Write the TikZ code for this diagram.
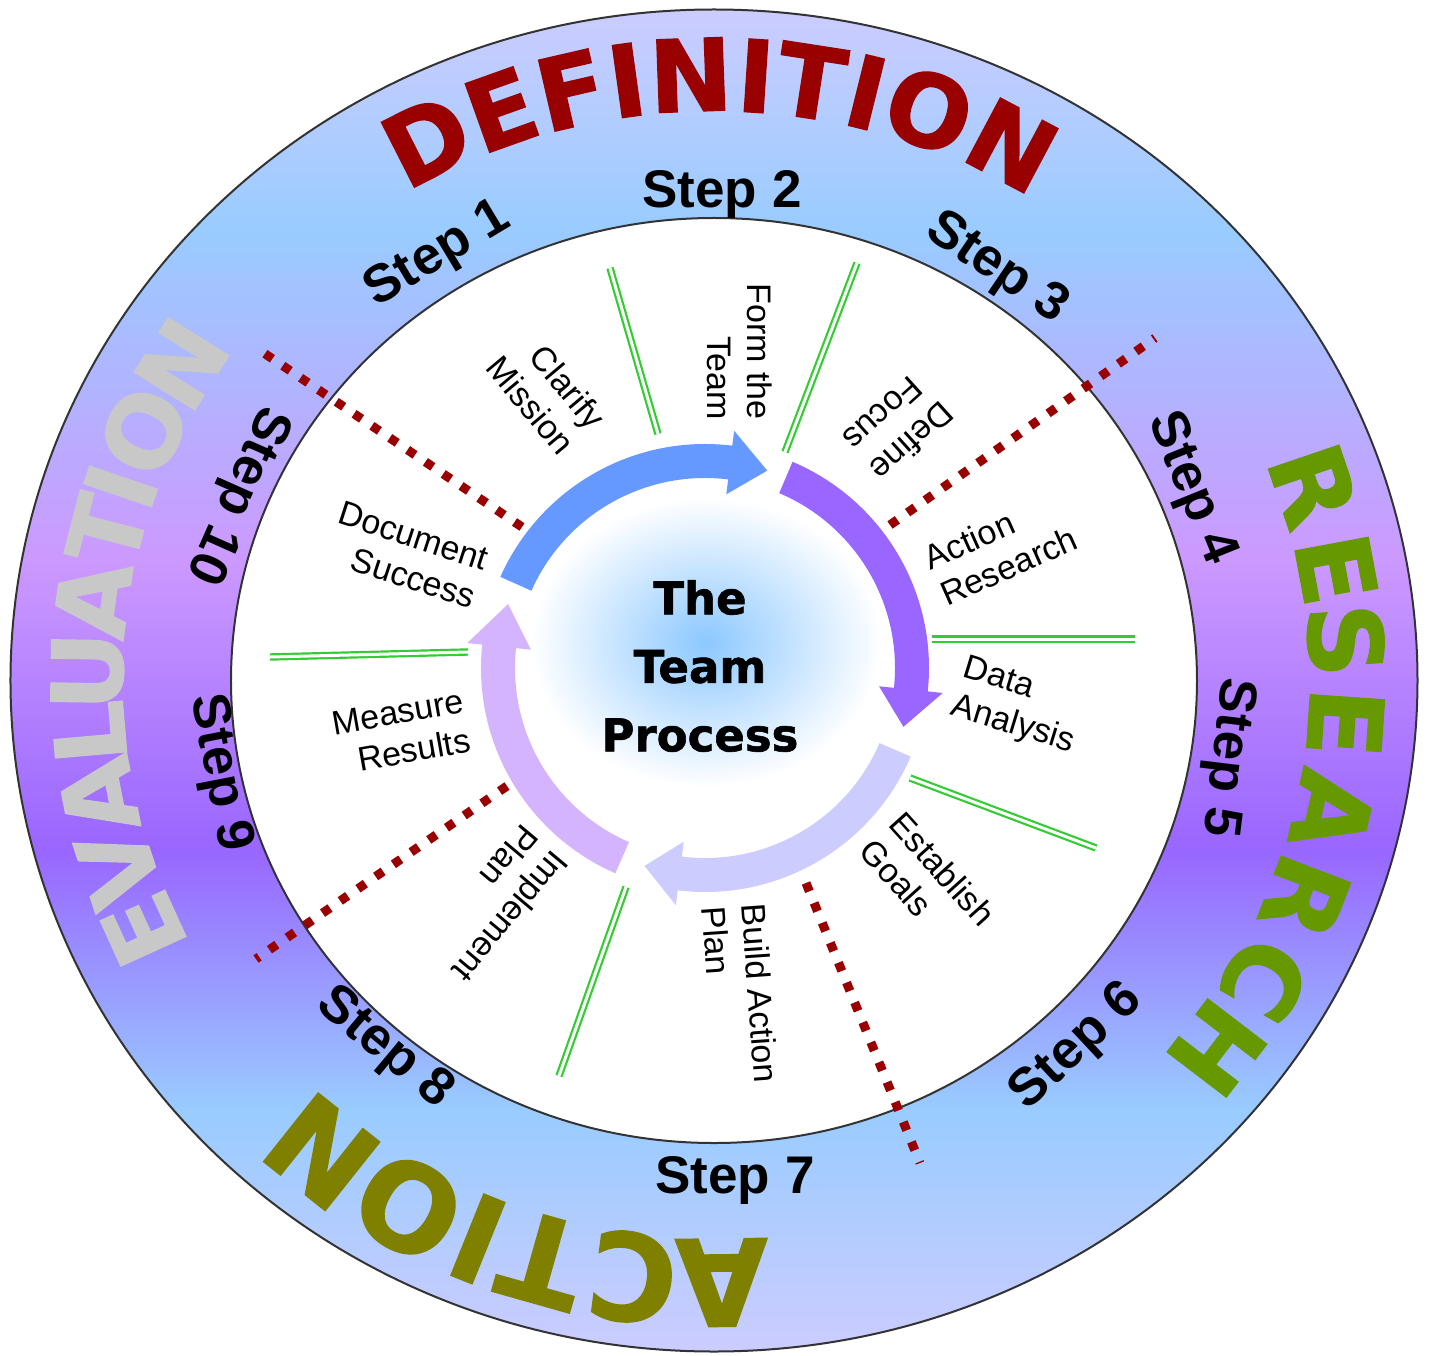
\documentclass[tikz,border=0pt]{standalone}
\usepackage{fontspec}
\setmainfont{Liberation Sans}
\newfontfamily\heavyfont{DejaVu Sans}[BoldFeatures={FakeBold=1.3}]

\definecolor{defred}{HTML}{990000}
\definecolor{resgreen}{HTML}{669900}
\definecolor{actolive}{HTML}{808000}
\definecolor{evalgray}{HTML}{C8C8C8}
\definecolor{divred}{HTML}{990000}
\definecolor{divgreen}{HTML}{33CC33}
\definecolor{arrblue}{HTML}{6699FF}
\definecolor{arrpurple}{HTML}{9966FF}
\definecolor{arrlav}{HTML}{CCCCFF}
\definecolor{arrlilac}{HTML}{D4B4FC}
\definecolor{glowblue}{HTML}{8CC8FF}
\definecolor{rimline}{HTML}{333333}

% vertical colour bands of the outer ring (bottom = 25bp, top = 75bp)
\pgfdeclareverticalshading{ringfill}{100bp}{rgb(0bp)=(0.8,0.8,1); rgb(25bp)=(0.8,0.8,1); rgb(34bp)=(0.6,0.8,1); rgb(43.7bp)=(0.6,0.4,1); rgb(54.5bp)=(0.8,0.6,1); rgb(66.8bp)=(0.6,0.8,1); rgb(75bp)=(0.8,0.8,1); rgb(100bp)=(0.8,0.8,1)}

% curved cycle arrow: colour, tail angle, head base angle, tip angle
\newcommand\cyclearrow[4]{%
  \fill[#1] (#2:224pt) arc[start angle=#2, end angle=#3, radius=224pt]
    -- (#3:239pt) -- (#4:207pt) -- (#3:175pt) -- (#3:190pt)
    arc[start angle=#3, end angle=#2, radius=190pt] -- cycle;}

\tikzset{
  steplabel/.style={font=\bfseries\fontsize{53}{60}\selectfont, inner sep=0pt, text height=38pt, text depth=0pt},
  innerlabel/.style={font=\fontsize{34}{40}\selectfont, inner sep=0pt},
  defletter/.style={font=\heavyfont\bfseries\fontsize{100}{100}\selectfont, text=defred, inner sep=0pt, text height=73pt, text depth=0pt},
  resletter/.style={font=\heavyfont\bfseries\fontsize{102}{102}\selectfont, text=resgreen, inner sep=0pt, text height=74pt, text depth=0pt},
  actletter/.style={font=\heavyfont\bfseries\fontsize{120}{120}\selectfont, text=actolive, inner sep=0pt, text height=87pt, text depth=0pt},
  evalletter/.style={font=\heavyfont\bfseries\fontsize{98}{98}\selectfont, text=evalgray, inner sep=0pt, text height=71pt, text depth=0pt},
  greendiv/.style={draw=divgreen, line width=2.2pt, double=white, double distance=3pt},
  reddiv/.style={draw=divred, line width=9pt, dash pattern=on 9pt off 12.5pt},
}

\begin{document}
\begin{tikzpicture}[x=1pt, y=1pt]
\useasboundingbox (-714,-674.5) rectangle (715,680.5);
\fill[white] (-714,-674.5) rectangle (715,680.5);

% outer ring
\shade[shading=ringfill] (0,0) ellipse[x radius=703.5pt, y radius=671pt];
\draw[rimline, line width=2pt] (0,0) ellipse[x radius=703.5pt, y radius=671pt];
\fill[white] (0,0) ellipse[x radius=483pt, y radius=462.5pt];
\draw[rimline, line width=2pt] (0,0) ellipse[x radius=483pt, y radius=462.5pt];

% soft glow behind the title
\shade[inner color=glowblue, outer color=white] (-8,38) ellipse[x radius=175pt, y radius=145pt];

% the four cycle arrows
\begin{scope}[shift={(-9,12.5)}]
  \cyclearrow{arrblue}{156}{83}{72.5}
  \cyclearrow{arrpurple}{67}{-6}{-16.5}
  \cyclearrow{arrlav}{-23.3}{-97}{-107}
  \cyclearrow{arrlilac}{246.4}{174}{162}
\end{scope}

% step separators
\coordinate (g1a) at (-104,412.5);  \coordinate (g1b) at (-56,246.5);
\coordinate (g2a) at (143,417.5);   \coordinate (g2b) at (71,228.5);
\coordinate (g3a) at (218,41.5);    \coordinate (g3b) at (421,41.5);
\coordinate (g4a) at (196,-97.5);   \coordinate (g4b) at (382,-167.5);
\coordinate (g5a) at (-88,-206.5);  \coordinate (g5b) at (-155,-395.5);
\coordinate (g6a) at (-444,23.5);   \coordinate (g6b) at (-246,28.5);
\draw[greendiv] (g1a) -- (g1b);
\draw[greendiv] (g2a) -- (g2b);
\draw[greendiv] (g3a) -- (g3b);
\draw[greendiv] (g4a) -- (g4b);
\draw[greendiv] (g5a) -- (g5b);
\draw[greendiv] (g6a) -- (g6b);

% phase separators
\coordinate (ra1) at (-192,153.5);  \coordinate (ra2) at (-459,333.5);
\coordinate (rb1) at (176,155.5);   \coordinate (rb2) at (441,342.5);
\coordinate (rc1) at (92,-202.5);   \coordinate (rc2) at (206,-482.5);
\coordinate (rd1) at (-207,-105.5); \coordinate (rd2) at (-458,-278.5);
\draw[reddiv] (ra1) -- (ra2);
\draw[reddiv] (rb1) -- (rb2);
\draw[reddiv] (rc1) -- (rc2);
\draw[reddiv] (rd1) -- (rd2);

% step labels in the ring
\node[steplabel, rotate=31]   (step1)  at (-279,430.5) {Step 1};
\node[steplabel]              (step2)  at (8,492)      {Step 2};
\node[steplabel, rotate=-34]  (step3)  at (286,416.5)  {Step 3};
\node[steplabel, rotate=-68]  (step4)  at (482,194.5)  {Step 4};
\node[steplabel, rotate=-97]  (step5)  at (518,-77.5)  {Step 5};
\node[steplabel, rotate=43]   (step6)  at (359,-362.5) {Step 6};
\node[steplabel]              (step7)  at (21,-493.5)  {Step 7};
\node[steplabel, rotate=-40]  (step8)  at (-326,-363.5) {Step 8};
\node[steplabel, rotate=-79]  (step9)  at (-489,-91.5) {Step 9};
\node[steplabel, rotate=-114] (step10) at (-472,183.5) {Step 10};

% activity labels
\node[innerlabel, rotate=-50, anchor=east, align=right]  (clarify)  at (-130.5,244)  {Clarify\\Mission};
\node[innerlabel, rotate=-90, anchor=east, align=right]  (form)     at (26,260.5)    {Form the\\Team};
\node[innerlabel, rotate=-138, anchor=east, align=right] (define)   at (148,220.5)   {Define\\Focus};
\node[innerlabel, rotate=24, anchor=west, align=left]    (research) at (220,103)     {Action\\Research};
\node[innerlabel, rotate=-17, anchor=west, align=left]   (data)     at (244,-7.5)    {Data\\Analysis};
\node[innerlabel, rotate=-48, anchor=west, align=left]   (goals)    at (167.5,-150.5) {Establish\\Goals};
\node[innerlabel, rotate=-86, anchor=west, align=left]   (build)    at (20,-224.5)   {Build Action\\Plan};
\node[innerlabel, rotate=-130, anchor=west, align=left]  (implement) at (-167,-162.5) {Implement\\Plan};
\node[innerlabel, rotate=10, anchor=east, align=right]   (measure)  at (-247.5,-40)  {Measure\\Results};
\node[innerlabel, rotate=-18, anchor=east, align=right]  (document) at (-233,101.5)  {Document\\Success};

% phase names set letter by letter round the ring
\foreach \ch/\ang [count=\i] in {D/116.9,E/109.6,F/103.0,I/97.9,N/92.1,I/86.2,T/81.2,I/76.1,O/70.2,N/62.0}
  \node[defletter, rotate=\ang-90] (def\i) at (\ang:635pt and 606pt) {\ch};
\foreach \ch/\ang [count=\i] in {R/18.8,E/10.6,S/3.8,E/-4.0,A/-12.5,R/-21.0,C/-29.6,H/-37.4}
  \node[resletter, rotate=\ang-90] (res\i) at (\ang:633pt and 605pt) {\ch};
\foreach \ch/\ang [count=\i] in {A/-89.3,C/-97.4,T/-105.8,I/-112.0,O/-119.0,N/-128.5}
  \node[actletter, rotate=\ang-90] (act\i) at (\ang:630pt and 602pt) {\ch};
\foreach \ch/\ang [count=\i] in {E/204.5,V/198.2,A/191.1,L/185.0,U/179.1,A/172.2,T/165.5,I/161.1,O/155.4,N/148.1}
  \node[evalletter, rotate=\ang-90] (eval\i) at (\ang:627pt and 599pt) {\ch};

% title
\node[font=\heavyfont\bfseries\fontsize{45}{68.5}\selectfont, align=center, inner sep=0pt] (title) at (-14,14.5) {The\\Team\\Process};
\end{tikzpicture}
\end{document}
